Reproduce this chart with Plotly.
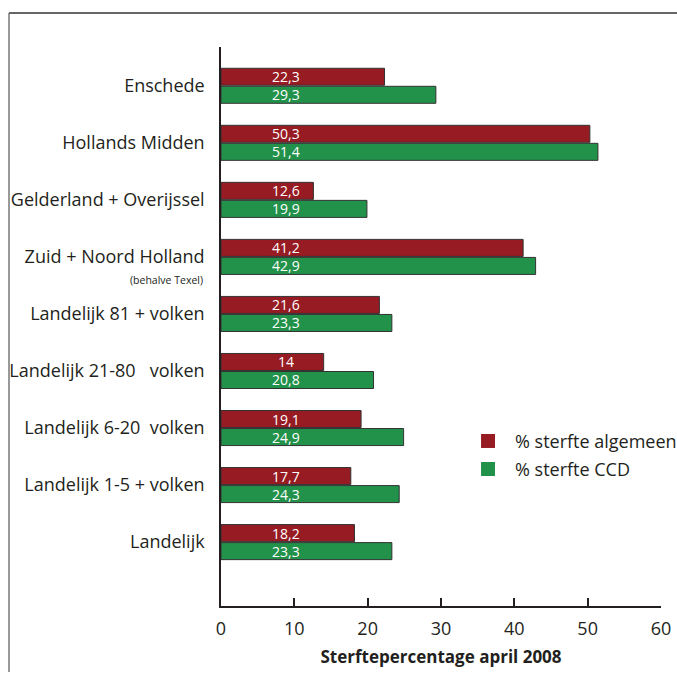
import plotly.graph_objects as go

categories = [
    "Enschede",
    "Hollands Midden",
    "Gelderland + Overijssel",
    "Zuid + Noord Holland",
    "Landelijk 81 + volken",
    "Landelijk 21-80\u00a0\u00a0\u00a0volken",
    "Landelijk 6-20\u00a0\u00a0volken",
    "Landelijk 1-5 + volken",
    "Landelijk",
]
sterfte_algemeen = [22.3, 50.3, 12.6, 41.2, 21.6, 14, 19.1, 17.7, 18.2]
sterfte_ccd = [29.3, 51.4, 19.9, 42.9, 23.3, 20.8, 24.9, 24.3, 23.3]
series_names = ["% sterfte algemeen", "% sterfte CCD"]
x_ticks = [0, 10, 20, 30, 40, 50, 60]

RED = "#961b22"
GREEN = "#22914a"
FONT = "Open Sans"
DARK = "#231f20"


def fmt(v):
    s = ("%.1f" % v).rstrip("0").rstrip(".")
    return s.replace(".", ",")


fig = go.Figure()
for name, vals, col in zip(series_names, [sterfte_algemeen, sterfte_ccd], [RED, GREEN]):
    fig.add_trace(go.Bar(
        y=categories, x=vals, orientation="h", name=name, showlegend=False,
        marker=dict(color=col, line=dict(color="#333333", width=1)),
    ))

annotations = []
for c, a, b in zip(categories, sterfte_algemeen, sterfte_ccd):
    annotations.append(dict(x=8.8, y=c, text=fmt(a), showarrow=False, yshift=9,
                            font=dict(family=FONT, size=14, color="white")))
    annotations.append(dict(x=8.8, y=c, text=fmt(b), showarrow=False, yshift=-9,
                            font=dict(family=FONT, size=14, color="white")))
annotations.append(dict(x=-0.036, xref="paper", y=categories[3], text="(behalve Texel)",
                        showarrow=False, xanchor="right", yshift=-23,
                        font=dict(family=FONT, size=10.5, color=DARK)))

# manual legend (legend box in the reference reaches the figure edge)
shapes = [
    dict(type="line", xref="paper", yref="paper", x0=-0.4818, x1=1.04,
         y0=1.0608, y1=1.0608, line=dict(color="#333333", width=1.5)),
    dict(type="line", xref="paper", yref="paper", x0=-0.4818, x1=-0.4818,
         y0=1.0608, y1=-0.118, line=dict(color="#555555", width=1.2)),
]
leg_y = [0.2952, 0.2451]
for name, col, ly in zip(series_names, [RED, GREEN], leg_y):
    shapes.append(dict(type="rect", xref="paper", yref="paper",
                       x0=0.591, x1=0.6227, y0=ly - 0.0125, y1=ly + 0.0125,
                       fillcolor=col, line=dict(width=0)))
    annotations.append(dict(x=0.6636, y=ly, xref="paper", yref="paper", text=name,
                            showarrow=False, xanchor="left", yanchor="middle",
                            font=dict(family=FONT, size=18, color=DARK)))

fig.update_layout(
    width=677, height=673, autosize=False,
    margin=dict(l=221, r=16, t=47, b=67),
    paper_bgcolor="white", plot_bgcolor="white",
    barmode="group", bargap=0.368, bargroupgap=0.056,
    font=dict(family=FONT, color=DARK),
    showlegend=False,
    annotations=annotations,
    shapes=shapes,
    xaxis=dict(range=[0, 60], tickvals=x_ticks, ticks="inside", ticklen=8,
               tickwidth=1.5, tickcolor=DARK, showgrid=False, zeroline=False,
               showline=True, linecolor=DARK, linewidth=1.5, automargin=False,
               ticklabelstandoff=6,
               tickfont=dict(family=FONT, size=18, color=DARK),
               title=dict(text="<b>Sterftepercentage april 2008</b>",
                          font=dict(family=FONT, size=17, color=DARK), standoff=12)),
    yaxis=dict(categoryorder="array", categoryarray=categories,
               range=[9.12, -0.68], showgrid=False, zeroline=False,
               showline=True, linecolor=DARK, linewidth=1.5, ticks="",
               automargin=False, ticklabelstandoff=11,
               tickfont=dict(family=FONT, size=18, color=DARK)),
)

fig.write_html("out.html", config={"responsive": False})
